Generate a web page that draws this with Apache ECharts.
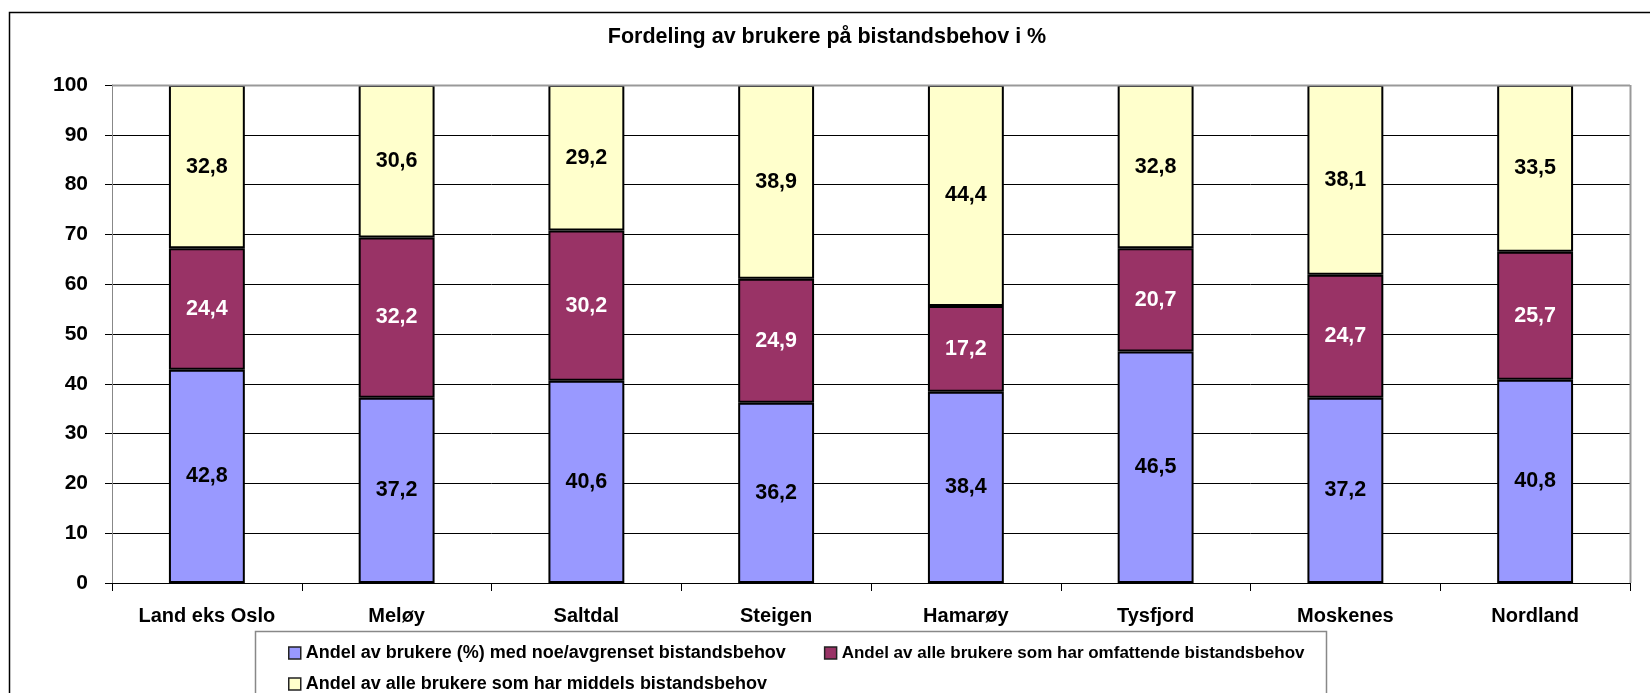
<!DOCTYPE html>
<html><head><meta charset="utf-8">
<script src="https://cdn.jsdelivr.net/npm/echarts@6/dist/echarts.min.js"></script>
<style>html,body{margin:0;padding:0;background:#fff}#c{width:1650px;height:693px}</style>
</head><body><div id="c"></div>
<script>
const categories = ['Land eks Oslo','Meløy','Saltdal','Steigen','Hamarøy','Tysfjord','Moskenes','Nordland'];
const seriesNames = ['Andel av brukere (%) med noe/avgrenset bistandsbehov','Andel av alle brukere som har omfattende bistandsbehov','Andel av alle brukere som har middels bistandsbehov'];
const noeAvgrenset = [42.8,37.2,40.6,36.2,38.4,46.5,37.2,40.8];
const omfattende = [24.4,32.2,30.2,24.9,17.2,20.7,24.7,25.7];
const middels = [32.8,30.6,29.2,38.9,44.4,32.8,38.1,33.5];
const yTicks = [0,10,20,30,40,50,60,70,80,90,100];
const titleText = 'Fordeling av brukere på bistandsbehov i %';

const FONT = '"Liberation Sans",Arial,sans-serif';
const colors = ['#9999FF','#993366','#FFFFCC'];
const labelColors = ['#000','#fff','#000'];
const dataArr = [noeAvgrenset, omfattende, middels];
const fmt = p => p.value.toFixed(1).replace('.', ',');
const legText = {fontFamily:FONT,fontSize:18,fontWeight:'bold',color:'#000'};

const chart = echarts.init(document.getElementById('c'), null, {renderer:'canvas'});
chart.setOption({
  animation:false,
  backgroundColor:'#fff',
  title:{text:titleText,left:822,textAlign:'center',top:21,textStyle:{fontFamily:FONT,fontSize:21.5,fontWeight:'bold',color:'#000'}},
  grid:{left:112,right:20,top:85,bottom:110,containLabel:false},
  legend:[
    {data:[{name:seriesNames[0]},{name:seriesNames[1],textStyle:{fontSize:17}}],left:283,top:639,itemGap:38,itemWidth:12,itemHeight:12,icon:'rect',
     itemStyle:{borderColor:'#222',borderWidth:1.5},textStyle:legText},
    {data:[seriesNames[2]],left:283,top:670,itemWidth:12,itemHeight:12,icon:'rect',
     itemStyle:{borderColor:'#222',borderWidth:1.5},textStyle:legText}
  ],
  xAxis:{type:'category',data:categories,
    axisLine:{lineStyle:{color:'#000',width:1}},
    axisTick:{show:true,length:8,lineStyle:{color:'#000'}},
    axisLabel:{fontFamily:FONT,fontSize:20,fontWeight:'bold',color:'#000',margin:23},
    splitLine:{show:false}},
  yAxis:{type:'value',min:0,max:100,interval:10,
    axisLine:{show:true,lineStyle:{color:'#888',width:1}},
    axisTick:{show:true,inside:false,length:7,lineStyle:{color:'#000'}},
    axisLabel:{fontFamily:FONT,fontSize:21,fontWeight:'bold',color:'#000',margin:24,
      formatter:v=>yTicks.includes(v)?String(v):''},
    splitLine:{show:true,lineStyle:{color:'#000',width:1}}},
  graphic:[
    {type:'rect',shape:{x:9.5,y:12.5,width:1660,height:700},style:{fill:'none',stroke:'#000',lineWidth:1.5},z:-10,silent:true},
    {type:'line',shape:{x1:112,y1:85.5,x2:1630,y2:85.5},style:{stroke:'#999',lineWidth:2},z:5},
    {type:'line',shape:{x1:1630.5,y1:85,x2:1630.5,y2:583},style:{stroke:'#999',lineWidth:2},z:5},
    {type:'rect',shape:{x:255.5,y:631.5,width:1071,height:80},style:{fill:'none',stroke:'#888',lineWidth:1.5},z:1,silent:true}
  ],
  series:[0,1,2].map(i=>({
    name:seriesNames[i],type:'bar',stack:'s',data:dataArr[i],barWidth:'40%',
    itemStyle:{color:colors[i],borderColor:'#000',borderWidth:2},
    label:{show:true,position:'inside',formatter:fmt,fontFamily:FONT,fontSize:21.5,fontWeight:'bold',color:labelColors[i]}
  }))
});
</script></body></html>
